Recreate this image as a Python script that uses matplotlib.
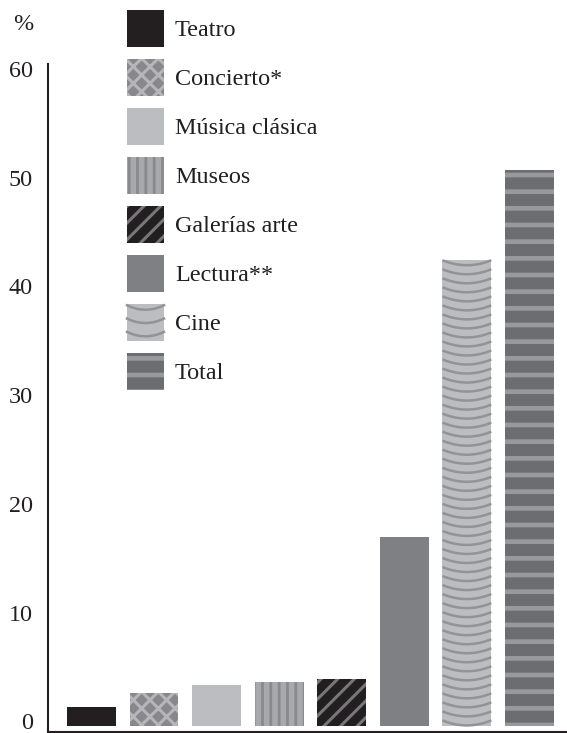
"""
Bar chart: asistencia a actividades culturales (%).
"""

import numpy as np
import matplotlib.pyplot as plt
from matplotlib.legend_handler import HandlerPatch
from matplotlib.lines import Line2D
from matplotlib.transforms import ScaledTranslation

categories = ["Teatro", "Concierto*", "Música clásica", "Museos",
              "Galerías arte", "Lectura**", "Cine", "Total"]
values = [1.7, 3.0, 3.7, 4.0, 4.3, 17.3, 42.8, 51.1]
yticks = [0, 10, 20, 30, 40, 50, 60]

fills = ["#231f20", "#88888c", "#bcbdc0", "#a8a9ac",
         "#231f20", "#7f8084", "#bcbdc0", "#6c6d71"]
hatch_colors = ["#231f20", "#b6b6b9", "#bcbdc0", "#8a8a8e",
                "#77777b", "#7f8084", "#939397", "#98999d"]
hatches = [None, "xx", None, "||", "//", None, None, "-"]
hatch_widths = [1.0, 2.2, 1.0, 2.0, 2.2, 1.0, 1.0, 3.4]

ink = "#231f20"
plt.rcParams["font.family"] = ["Liberation Serif", "DejaVu Serif"]
plt.rcParams["hatch.linewidth"] = 2.2
fs = 17.4


class SwatchHandler(HandlerPatch):
    def create_artists(self, legend, orig_handle, xdescent, ydescent,
                       width, height, fontsize, trans):
        arts = super().create_artists(legend, orig_handle, xdescent, ydescent,
                                      width, height, fontsize, trans)
        if hasattr(arts[0], "set_hatch_linewidth"):
            arts[0].set_hatch_linewidth(orig_handle.get_hatch_linewidth())
        return arts


class ArcHandler(SwatchHandler):
    def create_artists(self, legend, orig_handle, xdescent, ydescent,
                       width, height, fontsize, trans):
        arts = super().create_artists(legend, orig_handle, xdescent, ydescent,
                                      width, height, fontsize, trans)
        xs = np.linspace(-xdescent, -xdescent + width, 30)
        u = (xs - (-xdescent + width / 2)) / (width / 2)
        for k in range(3):
            y0 = -ydescent + height * (0.97 - k * 0.36)
            arts.append(Line2D(xs, y0 - 0.12 * height * (1 - u ** 2),
                               color=hatch_colors[6], lw=1.8, transform=trans))
        return arts


fig = plt.figure(figsize=(5.67, 7.33), dpi=100)
ax = fig.add_axes([48 / 567, 1.3 / 733, 1 - 48 / 567, (731.7 - 64) / 733])

x = np.arange(len(categories))
bars = ax.bar(x, values, width=0.78, color=fills, edgecolor=hatch_colors,
              linewidth=0)
for b, h, hw in zip(bars, hatches, hatch_widths):
    if h:
        b.set_hatch(h)
        if hasattr(b, "set_hatch_linewidth"):
            b.set_hatch_linewidth(hw)

# arcs texture for Cine, clipped to the bar
cine = bars[6]
x0, w, top = cine.get_x(), cine.get_width(), cine.get_height()
xs = np.linspace(x0, x0 + w, 40)
u = (xs - (x0 + w / 2)) / (w / 2)
for y0 in np.arange(top, 0, -0.83):
    ax.plot(xs, y0 - 0.46 * (1 - u ** 2), color=hatch_colors[6], lw=1.8,
            clip_path=cine, solid_capstyle="butt")

ax.set_xlim(-0.695, 7.6)
ax.set_ylim(-0.57, 60.85)
ax.set_yticks(yticks)
ax.set_xticks([])
ax.tick_params(axis="y", length=0, pad=10.8, labelsize=fs, labelcolor=ink)
shift = ScaledTranslation(0, 3 / 72, fig.dpi_scale_trans)
for lab in ax.get_yticklabels():
    lab.set_transform(lab.get_transform() + shift)
for s in ["top", "right"]:
    ax.spines[s].set_visible(False)
for s in ["left", "bottom"]:
    ax.spines[s].set_linewidth(1.5)
    ax.spines[s].set_color(ink)

fig.text(23 / 567, 1 - 25 / 733, "%", fontsize=fs, color=ink,
         ha="center", va="center")

hm = {b: SwatchHandler() for b in bars}
hm[bars[6]] = ArcHandler()
leg = ax.legend(list(bars), categories, handler_map=hm, loc="upper left",
                bbox_to_anchor=(127 / 567, 1 - 10 / 733),
                bbox_transform=fig.transFigure,
                frameon=False, fontsize=fs, borderpad=0, borderaxespad=0,
                handlelength=1.53, handleheight=1.975, labelspacing=0.5,
                handletextpad=0.45)
for t in leg.get_texts():
    t.set_color(ink)

plt.savefig("out.png", dpi=100)
